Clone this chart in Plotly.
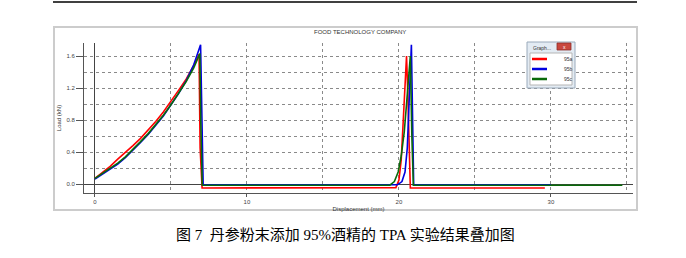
import plotly.graph_objects as go

# ---- data ----
x_95a = [0, 0.5, 1.0, 1.5, 2.0, 2.5, 3.0, 3.5, 4.0, 4.5, 5.0, 5.5, 6.0, 6.5, 6.85, 6.92, 7.05, 7.15,
         10, 15, 19.8, 20.0, 20.15, 20.3, 20.4, 20.5, 20.58, 20.66, 20.75, 21.0, 25, 29.6]
y_95a = [0.07, 0.14, 0.22, 0.31, 0.39, 0.48, 0.57, 0.67, 0.78, 0.90, 1.03, 1.17, 1.31, 1.48, 1.62, 0.45, -0.05, -0.05,
         -0.05, -0.05, -0.045, 0.05, 0.30, 0.85, 1.30, 1.60, 1.15, 0.40, -0.05, -0.05, -0.05, -0.05]

x_95b = [0, 0.5, 1.0, 1.5, 2.0, 2.5, 3.0, 3.5, 4.0, 4.5, 5.0, 5.5, 6.0, 6.5, 6.95, 7.02, 7.12,
         10, 15, 19.9, 20.2, 20.4, 20.55, 20.65, 20.75, 20.82, 20.9, 20.97, 23, 30]
y_95b = [0.06, 0.12, 0.18, 0.25, 0.33, 0.42, 0.52, 0.62, 0.73, 0.85, 0.99, 1.13, 1.29, 1.49, 1.74, 0.85, -0.01,
         -0.01, -0.01, -0.01, 0.03, 0.15, 0.45, 0.90, 1.40, 1.74, 0.80, -0.01, -0.01, -0.01]

x_95c = [0, 0.5, 1.0, 1.5, 2.0, 2.5, 3.0, 3.5, 4.0, 4.5, 5.0, 5.5, 6.0, 6.5, 6.9, 6.96, 7.06,
         10, 15, 19.4, 19.7, 19.95, 20.15, 20.35, 20.5, 20.65, 20.75, 20.85, 20.95, 25, 34.7]
y_95c = [0.07, 0.13, 0.19, 0.26, 0.34, 0.43, 0.53, 0.63, 0.74, 0.86, 0.99, 1.13, 1.28, 1.45, 1.63, 0.80, -0.015,
         -0.015, -0.015, -0.015, 0.03, 0.15, 0.35, 0.65, 1.00, 1.40, 1.60, 0.60, -0.015, -0.015, -0.015]

series_names = ["95a", "95b", "95c"]
series_colors = ["#ff0000", "#0000e0", "#0a6a0a"]

x_ticks = [0, 10, 20, 30]
y_ticks = [0.0, 0.4, 0.8, 1.2, 1.6]
y_ticklabels = ["0.0", "0.4", "0.8", "1.2", "1.6"]

chart_title = "FOOD TECHNOLOGY COMPANY"
x_title = "Displacement (mm)"
y_title = "Load (kN)"
caption = "图 7  丹参粉末添加 95%酒精的 TPA 实验结果叠加图"

# ---- geometry (pixels) ----
W, H = 686, 258
L, R, T, B = 84, 633, 43, 193   # plot area in page pixels


def px(xp):
    return (xp - L) / (R - L)


def py(yp):
    return (B - yp) / (B - T)


fig = go.Figure()
for xs, ys, name, col in zip([x_95a, x_95b, x_95c], [y_95a, y_95b, y_95c], series_names, series_colors):
    fig.add_trace(go.Scatter(x=xs, y=ys, mode="lines", name=name,
                             line=dict(color=col, width=1.6), showlegend=False))

axis_col = "#555555"
grid_col = "#8a8a8a"
tick_font = dict(family="Liberation Sans, Arial, sans-serif", size=6, color="#444444")

fig.update_xaxes(range=[-0.72, 35.4], tickvals=x_ticks, ticktext=[str(v) for v in x_ticks],
                 showgrid=False, showline=True, linecolor=axis_col, linewidth=1, mirror=False,
                 ticks="outside", ticklen=3, tickcolor=axis_col, tickfont=tick_font,
                 zeroline=True, zerolinecolor="#444444", zerolinewidth=1,
                 minor=dict(dtick=5, tick0=0, showgrid=True, gridcolor=grid_col, griddash="dot", gridwidth=1),
                 title=dict(text=x_title, font=dict(family="Liberation Sans, Arial, sans-serif", size=6, color="#333333"),
                            standoff=2))
fig.update_yaxes(range=[-0.1125, 1.7625], tickvals=y_ticks, ticktext=y_ticklabels,
                 showgrid=False, showline=True, linecolor=axis_col, linewidth=1, mirror=False,
                 ticks="outside", ticklen=7, tickcolor=axis_col, tickfont=tick_font,
                 zeroline=True, zerolinecolor="#444444", zerolinewidth=1,
                 minor=dict(dtick=0.2, tick0=0, showgrid=True, gridcolor=grid_col, griddash="dot", gridwidth=1),
                 title=dict(text=y_title, font=dict(family="Liberation Sans, Arial, sans-serif", size=6, color="#333333"),
                            standoff=4))

shapes = []
# top rule of the page
shapes.append(dict(type="line", xref="paper", yref="paper", x0=px(53), x1=px(637), y0=py(2), y1=py(2),
                   line=dict(color="#000000", width=1.5)))
# chart frame
shapes.append(dict(type="rect", xref="paper", yref="paper", x0=px(54), x1=px(637), y0=py(210), y1=py(27),
                   line=dict(color="#cccccc", width=2), layer="below"))
# legend window
shapes.append(dict(type="rect", xref="paper", yref="paper", x0=px(527), x1=px(575), y0=py(88), y1=py(42),
                   fillcolor="#e3ebf3", line=dict(color="#9aaabb", width=1)))
shapes.append(dict(type="rect", xref="paper", yref="paper", x0=px(530), x1=px(572), y0=py(85), y1=py(53),
                   fillcolor="#ffffff", line=dict(color="#b5b5b5", width=1)))
shapes.append(dict(type="rect", xref="paper", yref="paper", x0=px(557), x1=px(571), y0=py(50), y1=py(43),
                   fillcolor="#c9473e", line=dict(color="#8e2f29", width=0.8)))
annotations = []
for i, (name, col) in enumerate(zip(series_names, series_colors)):
    yy = 59 + 10 * i
    shapes.append(dict(type="line", xref="paper", yref="paper", x0=px(532), x1=px(547), y0=py(yy), y1=py(yy),
                       line=dict(color=col, width=2.5)))
    annotations.append(dict(text=name, xref="paper", yref="paper", x=px(568), y=py(yy), showarrow=False,
                            xanchor="center", yanchor="middle",
                            font=dict(family="Liberation Sans, Arial, sans-serif", size=5, color="#333333")))

annotations.append(dict(text="Graph...", xref="paper", yref="paper", x=px(531), y=py(47.5), showarrow=False,
                        xanchor="left", yanchor="middle",
                        font=dict(family="Liberation Sans, Arial, sans-serif", size=5, color="#333333")))
annotations.append(dict(text="x", xref="paper", yref="paper", x=px(564), y=py(46.5), showarrow=False,
                        xanchor="center", yanchor="middle",
                        font=dict(family="Liberation Sans, Arial, sans-serif", size=5, color="#ffffff")))
annotations.append(dict(text=chart_title, xref="paper", yref="paper", x=px(360), y=py(31.5), showarrow=False,
                        xanchor="center", yanchor="middle",
                        font=dict(family="Liberation Sans Narrow, Liberation Sans, Arial, sans-serif", size=6, color="#333333")))
annotations.append(dict(text=caption, xref="paper", yref="paper", x=px(345), y=py(235), showarrow=False,
                        xanchor="center", yanchor="middle",
                        font=dict(family="Liberation Serif, Times New Roman, Noto Sans CJK SC, serif", size=15, color="#000000")))

fig.update_layout(width=W, height=H, autosize=False,
                  margin=dict(l=L, r=W - R, t=T, b=H - B, pad=0),
                  paper_bgcolor="#ffffff", plot_bgcolor="#ffffff",
                  shapes=shapes, annotations=annotations, showlegend=False)

fig.write_html("out.html")
